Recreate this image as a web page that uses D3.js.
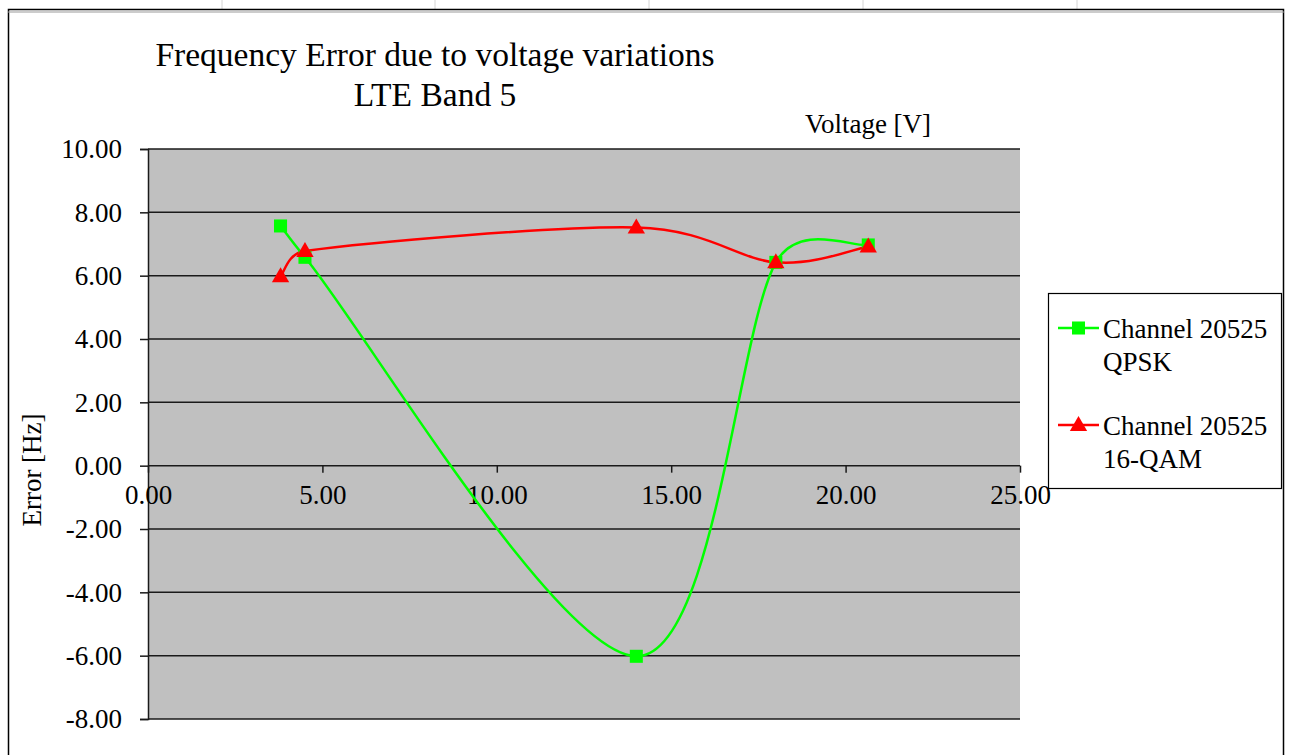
<!DOCTYPE html>
<html>
<head>
<meta charset="utf-8">
<title>Frequency Error due to voltage variations</title>
<style>
  body { margin: 0; background: #fff; }
  svg text { font-family: "Liberation Serif", "Times New Roman", serif; fill: #000; }
</style>
</head>
<body>
<main></main>
<script src="https://cdn.jsdelivr.net/npm/d3@7"></script>
<script>
    // data
    var voltages = [3.8, 4.5, 14.0, 18.0, 20.65];
    var qpskError = [7.57, 6.58, -6.02, 6.42, 6.97];
    var qamError = [5.98, 6.78, 7.52, 6.42, 6.92];
    var seriesNames = [["Channel 20525", "QPSK"], ["Channel 20525", "16-QAM"]];
    var xTicks = [0, 5, 10, 15, 20, 25];
    var yTicks = [-8, -6, -4, -2, 0, 2, 4, 6, 8, 10];

    var width = 1293, height = 755;
    var svg = d3.select("main").append("svg")
        .attr("width", width)
        .attr("height", height)
        .style("display", "block");

    // spreadsheet cells behind the chart
    var cellLines = [222, 435, 649, 863, 1077];
    svg.selectAll(".cell").data(cellLines).enter().append("line")
        .attr("x1", function (d) { return d; }).attr("x2", function (d) { return d; })
        .attr("y1", 0).attr("y2", 10)
        .attr("stroke", "#d4d4d4").attr("stroke-width", 1);

    // chart frame
    svg.append("rect")
        .attr("x", 8.5).attr("y", 9.5)
        .attr("width", 1275).attr("height", 760)
        .attr("fill", "#fff").attr("stroke", "#000").attr("stroke-width", 1.5);
    svg.append("line").attr("x1", 8).attr("x2", 1284).attr("y1", 12).attr("y2", 12)
        .attr("stroke", "#999").attr("stroke-width", 1);

    var plotLeft = 148, plotRight = 1020, plotTop = 149, plotBottom = 719;
    var x = d3.scaleLinear().domain([0, 25]).range([plotLeft, plotRight]);
    var y = d3.scaleLinear().domain([-8, 10]).range([plotBottom, plotTop]);

    // hyphen minus like the original, not the unicode minus
    var fmt = function (d) { return d3.format(".2f")(d).replace("\u2212", "-"); };

    // plot area
    svg.append("rect")
        .attr("x", plotLeft).attr("y", plotTop)
        .attr("width", plotRight - plotLeft).attr("height", plotBottom - plotTop)
        .attr("fill", "#c0c0c0");

    // horizontal gridlines
    svg.selectAll(".grid").data(yTicks).enter().append("line")
        .attr("x1", plotLeft).attr("x2", plotRight)
        .attr("y1", function (d) { return y(d); }).attr("y2", function (d) { return y(d); })
        .attr("stroke", "#1a1a1a").attr("stroke-width", 1.5);

    // y axis
    var yAxis = svg.append("g")
        .attr("transform", "translate(" + plotLeft + ",0)")
        .call(d3.axisLeft(y).tickValues(yTicks).tickSize(8).tickPadding(18)
            .tickFormat(fmt));
    yAxis.select(".domain").attr("stroke", "#1a1a1a").attr("stroke-width", 1.5);
    yAxis.selectAll(".tick line").attr("stroke", "#1a1a1a").attr("stroke-width", 1.5);
    yAxis.selectAll(".tick text")
        .attr("font-size", 27).attr("font-family", "Liberation Serif").attr("dy", "0.33em");

    // x axis crossing at zero, ticks pointing down into the plot
    var xAxis = svg.append("g")
        .attr("transform", "translate(0," + y(0) + ")")
        .call(d3.axisBottom(x).tickValues(xTicks).tickSize(7).tickPadding(12)
            .tickFormat(fmt));
    xAxis.select(".domain").remove();
    xAxis.selectAll(".tick line").attr("stroke", "#1a1a1a").attr("stroke-width", 1.5);
    xAxis.selectAll(".tick text")
        .attr("font-size", 27).attr("font-family", "Liberation Serif");

    // spreadsheet-style smoothing: bezier with tension 1/6,
    // control arm capped at half the segment length
    function smoothLine(pts) {
        var p = d3.path();
        function dist(a, b) { return Math.hypot(b[0] - a[0], b[1] - a[1]); }
        p.moveTo(pts[0][0], pts[0][1]);
        for (var i = 0; i < pts.length - 1; i++) {
            var p0 = pts[Math.max(i - 1, 0)], p1 = pts[i], p2 = pts[i + 1],
                p3 = pts[Math.min(i + 2, pts.length - 1)];
            var d12 = dist(p1, p2), d02 = dist(p0, p2), d13 = dist(p1, p3);
            var f1 = d02 / 6 < d12 / 2 ? 1 / 6 : d12 / d02 / 2;
            var f2 = d13 / 6 < d12 / 2 ? 1 / 6 : d12 / d13 / 2;
            p.bezierCurveTo(
                p1[0] + (p2[0] - p0[0]) * f1, p1[1] + (p2[1] - p0[1]) * f1,
                p2[0] - (p3[0] - p1[0]) * f2, p2[1] - (p3[1] - p1[1]) * f2,
                p2[0], p2[1]);
        }
        return p.toString();
    }
    function toPixels(data) {
        return data.map(function (d) { return [x(d[0]), y(d[1])]; });
    }

    var qpsk = d3.zip(voltages, qpskError);
    var qam = d3.zip(voltages, qamError);

    svg.append("path")
        .attr("d", smoothLine(toPixels(qpsk))).attr("fill", "none")
        .attr("stroke", "#00ff00").attr("stroke-width", 2.5);
    svg.append("path")
        .attr("d", smoothLine(toPixels(qam))).attr("fill", "none")
        .attr("stroke", "#ff0000").attr("stroke-width", 2.5);

    var square = d3.symbol().type(d3.symbolSquare).size(170);
    var triangle = d3.symbol().type(d3.symbolTriangle).size(130);

    svg.selectAll(".sq").data(qpsk).enter().append("path")
        .attr("d", square)
        .attr("transform", function (d) { return "translate(" + x(d[0]) + "," + y(d[1]) + ")"; })
        .attr("fill", "#00ff00");
    svg.selectAll(".tri").data(qam).enter().append("path")
        .attr("d", triangle)
        .attr("transform", function (d) { return "translate(" + x(d[0]) + "," + (y(d[1]) + 1) + ")"; })
        .attr("fill", "#ff0000");

    // titles
    svg.append("text").attr("x", 435).attr("y", 66)
        .attr("text-anchor", "middle").attr("font-size", 33.5)
        .text("Frequency Error due to voltage variations");
    svg.append("text").attr("x", 435).attr("y", 106)
        .attr("text-anchor", "middle").attr("font-size", 33.5)
        .text("LTE Band 5");
    svg.append("text").attr("x", 868).attr("y", 133)
        .attr("text-anchor", "middle").attr("font-size", 27)
        .text("Voltage [V]");
    svg.append("text")
        .attr("transform", "translate(41,470) rotate(-90)")
        .attr("text-anchor", "middle").attr("font-size", 27)
        .text("Error [Hz]");

    // legend
    var lg = svg.append("g");
    lg.append("rect")
        .attr("x", 1048.5).attr("y", 293.5).attr("width", 233).attr("height", 195)
        .attr("fill", "#fff").attr("stroke", "#000").attr("stroke-width", 1.2);
    var colors = ["#00ff00", "#ff0000"];
    var symbols = [square, triangle];
    seriesNames.forEach(function (name, i) {
        var cy = 328 + i * 97;
        lg.append("line").attr("x1", 1058).attr("x2", 1099).attr("y1", cy).attr("y2", cy)
            .attr("stroke", colors[i]).attr("stroke-width", 2.5);
        lg.append("path").attr("d", symbols[i])
            .attr("transform", "translate(1078.5," + (cy + (i ? 1 : 0)) + ")")
            .attr("fill", colors[i]);
        lg.append("text").attr("x", 1103).attr("y", cy + 10).attr("font-size", 27).text(name[0]);
        lg.append("text").attr("x", 1103).attr("y", cy + 43).attr("font-size", 27).text(name[1]);
    });
</script>
</body>
</html>
